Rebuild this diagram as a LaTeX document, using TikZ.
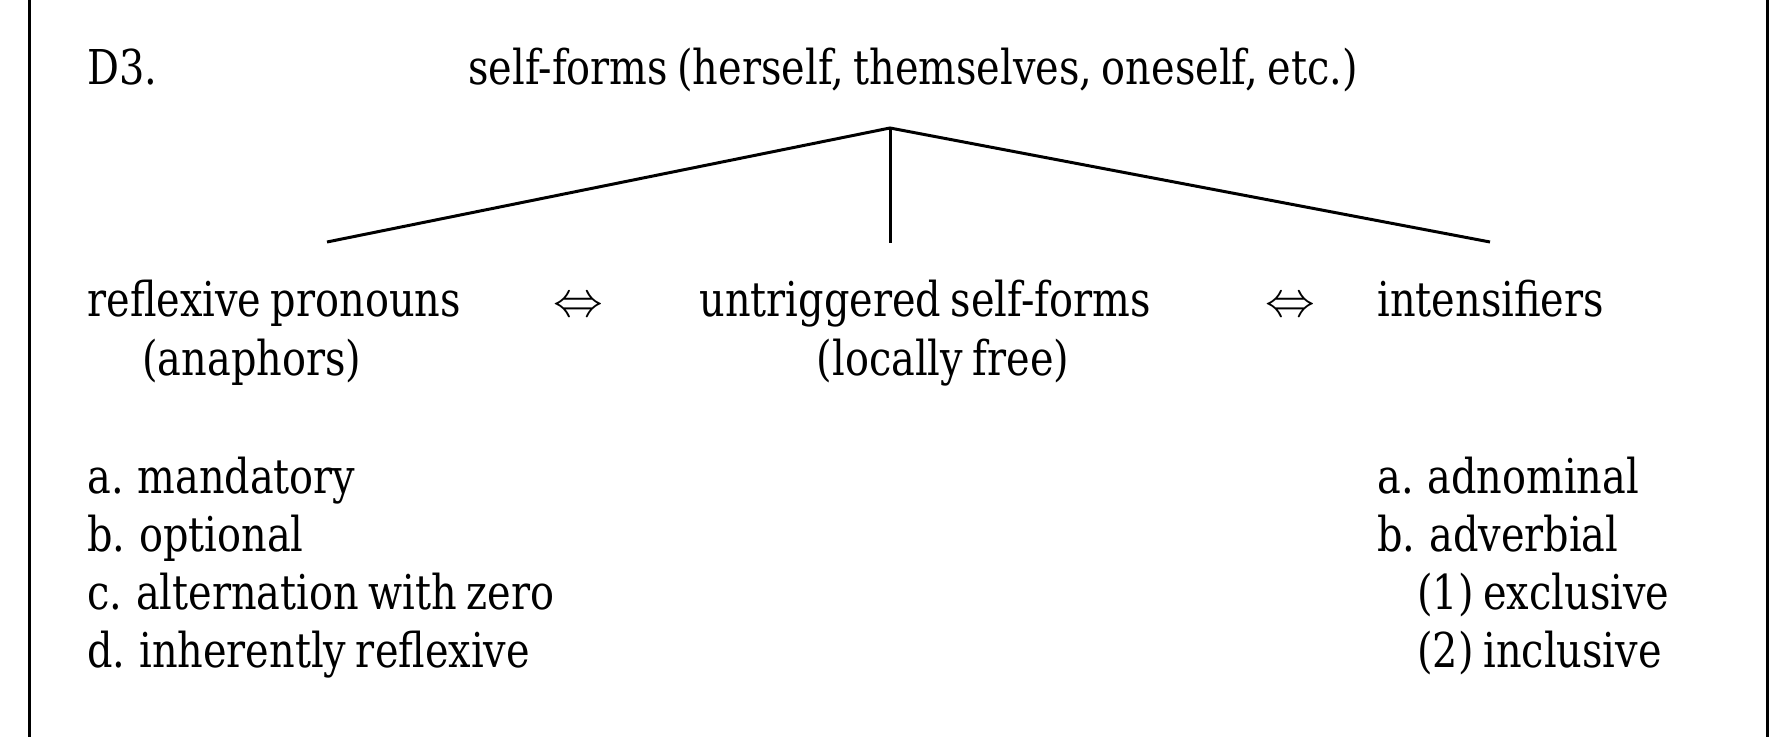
\documentclass[tikz,border=0pt]{standalone}
\usepackage{fontspec}
\setmainfont{DejaVu Serif}[FakeStretch=0.83,WordSpace=0.75]
\usepackage{tikz}
\usetikzlibrary{positioning}

\begin{document}
\begin{tikzpicture}[x=0.5pt,y=-0.5pt]
	\tikzset{
		lefttext/.style={anchor=base west,inner sep=0pt,font=\fontsize{24}{29}\selectfont},
		midtext/.style={anchor=base,inner sep=0pt,font=\fontsize{24}{29}\selectfont},
		branch/.style={line width=1.5pt},
	}
	\useasboundingbox (0,0) rectangle (1770,737);
	\draw[branch] (29,0) -- (29,737);
	\draw[branch] (1767,0) -- (1767,737);

	\node[lefttext] (label) at (87,85) {D3.};
	\node[midtext] (root) at (913,85) {self-forms (herself, themselves, oneself, etc.)};

	\coordinate (top) at (890,128);
	\coordinate (refl) at (327,242);
	\coordinate (untr) at (890,243);
	\coordinate (ints) at (1490,242);
	\draw[branch] (refl) -- (top) -- (ints);
	\draw[branch] (top) -- (untr);

	\node[lefttext] (refl1) at (87,317) {reflexive pronouns};
	\node[lefttext] (refl2) at (142,375) {(anaphors)};
	\node[midtext] (eq1) at (578,317) {$\Leftrightarrow$};
	\node[midtext] (untr1) at (925,317) {untriggered self-forms};
	\node[midtext] (untr2) at (943,375) {(locally free)};
	\node[midtext] (eq2) at (1290,317) {$\Leftrightarrow$};
	\node[lefttext] (ints1) at (1377,317) {intensifiers};

	\node[lefttext] (ra) at (87,493) {a. mandatory};
	\node[lefttext] (rb) at (87,551) {b. optional};
	\node[lefttext] (rc) at (87,609) {c. alternation with zero};
	\node[lefttext] (rd) at (87,667) {d. inherently reflexive};

	\node[lefttext] (ia) at (1377,493) {a. adnominal};
	\node[lefttext] (ib) at (1377,551) {b. adverbial};
	\node[lefttext] (ib1) at (1417,609) {(1) exclusive};
	\node[lefttext] (ib2) at (1417,667) {(2) inclusive};
\end{tikzpicture}
\end{document}
